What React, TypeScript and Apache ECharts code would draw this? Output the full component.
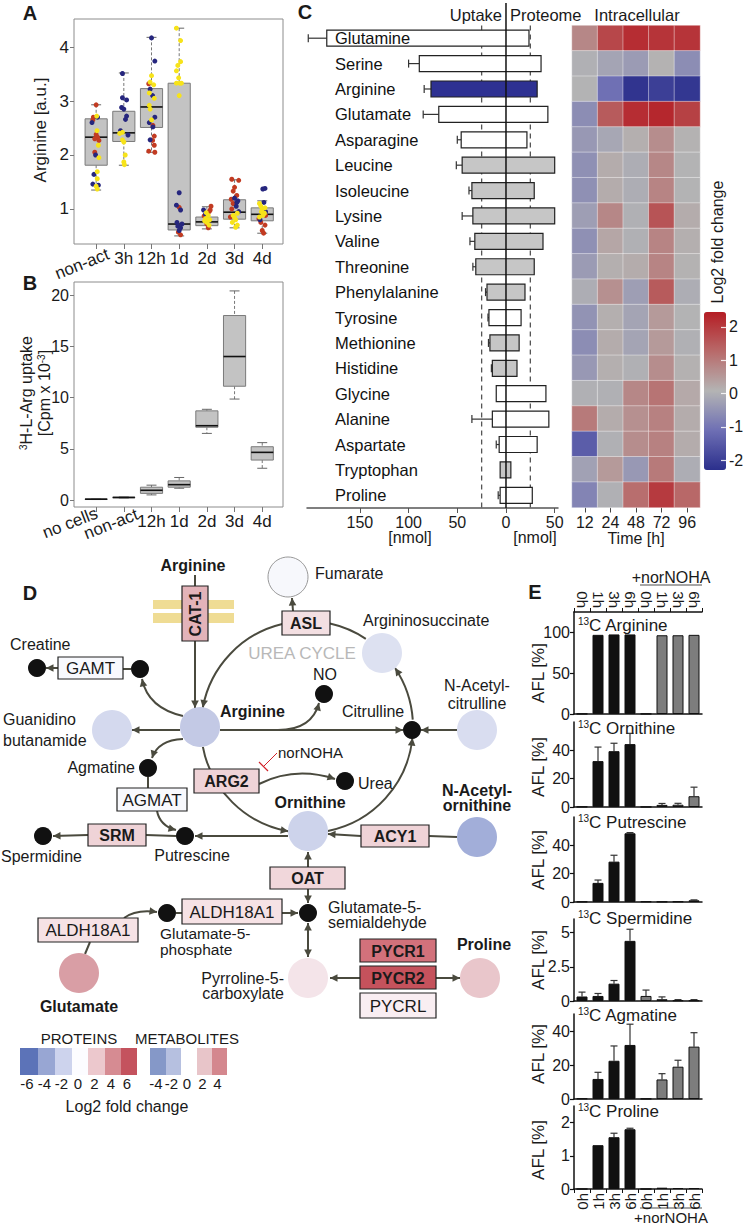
import React, { useEffect, useRef } from 'react';
import * as echarts from 'echarts';

const FONT = '"Liberation Sans", Arial, Helvetica, sans-serif';
const INK = '#1a1a1a';

// ---------------- Panel A ----------------
const catsA = ['non-act', '3h', '12h', '1d', '2d', '3d', '4d'];
// [q1, median, q3, lowerWhisker, upperWhisker]
const boxStatsA = [
  [1.81, 2.33, 2.67, 1.35, 2.93],
  [2.25, 2.41, 2.81, 1.81, 3.52],
  [2.51, 2.89, 3.23, 2.05, 4.18],
  [0.61, 0.72, 3.33, 0.5, 4.35],
  [0.69, 0.76, 0.85, 0.63, 1.04],
  [0.81, 0.94, 1.17, 0.65, 1.54],
  [0.78, 0.9, 1.02, 0.55, 1.15],
];
const ticksA = [1, 2, 3, 4];
// points: [categoryIndex, jitter, value]
const navyA = [
  [0, -0.15, 2.6], [0, 0.05, 2.7], [0, -0.02, 2.0], [0, -0.08, 1.64], [0, -0.12, 1.46], [0, 0.08, 1.44],
  [1, -0.05, 3.51], [1, -0.05, 3.06], [1, 0.1, 3.02], [1, -0.08, 2.88], [1, 0, 2.85], [1, 0.1, 2.72], [1, 0.06, 2.66], [1, -0.12, 2.45], [1, 0.15, 2.37],
  [2, 0, 4.17], [2, 0.12, 3.74], [2, -0.05, 3.22], [2, 0.04, 3.1], [2, 0.12, 2.7], [2, -0.08, 2.6], [2, 0.05, 2.52], [2, -0.05, 2.28],
  [3, 0, 1.3], [3, -0.1, 1.07], [3, 0.05, 0.98], [3, -0.08, 0.75], [3, 0.1, 0.72], [3, -0.05, 0.68], [3, 0.05, 0.65], [3, 0, 0.6],
  [4, -0.12, 0.98], [4, -0.05, 0.9],
  [5, 0, 1.2], [5, 0.12, 1.15], [5, 0.06, 1.05], [5, 0.15, 0.95], [5, 0.08, 1.12],
  [6, 0.02, 1.37], [6, 0.1, 1.38], [6, 0.06, 1.12], [6, -0.08, 0.8], [6, 0.12, 0.95],
];
const redA = [
  [0, 0, 2.93], [0, -0.1, 2.7], [0, -0.12, 2.65], [0, 0, 2.38], [0, 0.05, 2.33], [0, -0.05, 2.3], [0, 0.1, 2.27], [0, -0.05, 2.05],
  [2, -0.1, 3.32], [2, 0.05, 2.55], [2, 0.1, 2.35], [2, 0.04, 2.27], [2, 0.1, 2.18], [2, -0.1, 2.07], [2, 0.12, 2.05],
  [3, 0, 1.03], [3, -0.03, 0.57], [3, 0.05, 0.52],
  [4, 0.15, 1.05], [4, 0.08, 0.95], [4, -0.1, 0.87], [4, 0, 0.72], [4, 0.05, 0.65], [4, 0.12, 0.98],
  [5, -0.1, 1.55], [5, 0.15, 1.53], [5, 0, 1.4], [5, -0.05, 1.33], [5, 0.08, 1.25], [5, -0.05, 1.1], [5, -0.1, 1.0], [5, -0.15, 0.85], [5, -0.12, 1.18],
  [6, 0.12, 0.88], [6, -0.05, 0.75], [6, 0.1, 0.7], [6, 0, 0.6], [6, 0.05, 0.55], [6, -0.12, 0.82],
];
const yellowA = [
  [0, 0.02, 2.72], [0, 0.03, 2.45], [0, 0.08, 2.18], [0, 0.1, 1.95], [0, 0.04, 1.69], [0, 0.04, 1.56], [0, 0, 1.42], [0, 0.04, 1.37],
  [1, -0.05, 2.42], [1, -0.15, 2.4], [1, -0.05, 2.28], [1, 0, 2.24], [1, 0.05, 2.0], [1, 0, 1.87], [1, 0.02, 1.82],
  [2, 0, 3.47], [2, -0.05, 3.35], [2, 0.08, 3.3], [2, -0.08, 3.15], [2, 0.1, 3.05], [2, -0.08, 2.92], [2, -0.05, 2.85], [2, 0, 2.65],
  [3, -0.1, 4.35], [3, 0.05, 4.12], [3, 0.05, 3.73], [3, -0.05, 3.66], [3, -0.1, 3.56], [3, -0.02, 3.43], [3, -0.1, 3.33], [3, 0.02, 3.33], [3, 0.08, 3.33], [3, 0, 3.1],
  [4, -0.02, 0.93], [4, 0.05, 0.88], [4, -0.05, 0.82], [4, 0.1, 0.8], [4, -0.08, 0.78], [4, 0.08, 0.7], [4, 0, 0.75],
  [5, 0.1, 0.92], [5, -0.05, 0.88], [5, 0.04, 0.8], [5, -0.08, 0.75], [5, 0.1, 0.7], [5, 0.04, 0.66], [5, 0, 0.84],
  [6, -0.1, 1.1], [6, -0.05, 1.05], [6, 0, 1.0], [6, -0.03, 0.95], [6, 0.08, 0.92], [6, -0.1, 0.85], [6, 0.1, 1.02], [6, 0.02, 0.88],
];

// ---------------- Panel B ----------------
const catsB = ['no cells', 'non-act', '12h', '1d', '2d', '3d', '4d'];
const boxStatsB = [
  [0.05, 0.08, 0.11, 0.05, 0.11],
  [0.22, 0.25, 0.28, 0.2, 0.3],
  [0.65, 0.95, 1.25, 0.5, 1.45],
  [1.25, 1.5, 1.87, 1.15, 2.2],
  [7.1, 7.25, 8.7, 6.5, 8.85],
  [11.1, 14.0, 18.0, 9.85, 20.4],
  [3.9, 4.65, 5.2, 3.1, 5.6],
];
const ticksB = [0, 5, 10, 15, 20];

// ---------------- Panel C ----------------
const aminoAcids = ['Glutamine', 'Serine', 'Arginine', 'Glutamate', 'Asparagine', 'Leucine', 'Isoleucine', 'Lysine', 'Valine', 'Threonine', 'Phenylalanine', 'Tyrosine', 'Methionine', 'Histidine', 'Glycine', 'Alanine', 'Aspartate', 'Tryptophan', 'Proline'];
const uptake = [184, 89, 77, 69, 46, 45, 35, 34, 32, 31, 19.5, 17.5, 16.5, 14, 10, 14, 7, 6, 6];
const uptakeErr = [203, 100, 84, 85, 50, 51, 38, 45, 37, 34, 21, 18.5, 18, 15, 10.5, 35, 10, 6, 8];
const proteome = [23.6, 36, 32, 43, 21.5, 50, 29, 50, 38, 29, 19.5, 15.5, 13.5, 11.3, 41, 44, 32, 5, 27];
// 0 = white, 1 = grey, 2 = blue
const barKind = [0, 0, 2, 0, 0, 1, 1, 1, 1, 1, 1, 0, 1, 1, 0, 0, 0, 1, 0];
const nmolTicks = [-150, -100, -50, 0, 50];
const refLines = [-25, 25];
const hours = ['12', '24', '48', '72', '96'];
const heat = [
  [0.8, 1.8, 2.2, 2.1, 2.1],
  [0, -0.2, -0.35, 0.1, -0.6],
  [0.05, -1.1, -2.2, -2.0, -2.15],
  [-0.6, 1.5, 2.2, 2.3, 1.9],
  [-0.4, -0.15, 0.15, 0.7, 0.1],
  [-0.55, 0.2, -0.05, 0.8, 0.05],
  [-0.55, 0.2, -0.05, 0.85, 0.05],
  [-0.3, 0.8, 0, 1.6, 0.2],
  [-0.55, 0.3, 0, 0.85, 0.15],
  [-0.35, 0.15, 0.2, 0.85, 0.1],
  [-0.05, 0.65, -0.3, 1.5, -0.05],
  [-0.5, 0.15, -0.2, 0.5, 0.05],
  [-0.6, 0.2, -0.2, 0.5, 0],
  [-0.4, 0.15, 0, 0.7, 0.12],
  [0, 0, 0.8, 1.1, 0.25],
  [1.0, 0.2, 0.65, 0.9, 0.2],
  [-1.45, 0, 0.7, 0.9, 0.2],
  [-0.25, 0.5, -0.4, 1.0, -0.05],
  [-0.75, 0, 1.2, 2.0, 1.3],
];
const heatColors = ['#2b2f8c', '#6e6fb4', '#b4b4b4', '#b86a6a', '#b51d24'];
const colorTicks = [-2, -1, 0, 1, 2];

// ---------------- Panel E ----------------
const eLabels = ['0h', '1h', '3h', '6h', '0h', '1h', '3h', '6h'];
const argVals = [0.3, 97, 97.5, 97.5, 0.3, 96.5, 96.5, 97];
const argErr = [null, null, null, null, null, null, null, null];
const ornVals = [0.2, 32.4, 39.4, 44.4, 0.1, 1.5, 1.6, 7.6];
const ornErr = [null, 42.3, 45, 52, null, 2.5, 2.6, 14];
const putVals = [0.3, 13.5, 28.5, 48.5, 0.4, 0.3, 0.4, 1.2];
const putErr = [null, 15.5, 33, 49, null, null, null, 1.5];
const spdVals = [0.33, 0.37, 1.27, 4.4, 0.37, 0.13, 0.05, 0.05];
const spdErr = [0.65, 0.55, 1.5, 5.25, 0.8, 0.3, 0.1, 0.1];
const agmVals = [0.3, 11.8, 22.5, 31.8, 0.2, 11.5, 19, 30.8];
const agmErr = [null, 15.7, 31.2, 44, null, 14.9, 22.8, 39];
const proVals = [0, 1.32, 1.56, 1.8, 0, 0.04, 0.03, 0.03];
const proErr = [null, null, 1.68, 1.83, null, null, null, null];

const eSpecs = [
  { name: 'Arginine', top: 612, height: 102, max: 125, ticks: [0, 50, 100], vals: argVals, errs: argErr, ty: 625, ly: 673 },
  { name: 'Ornithine', top: 722, height: 85, max: 60, ticks: [0, 20, 40], vals: ornVals, errs: ornErr, ty: 728, ly: 767 },
  { name: 'Putrescine', top: 817, height: 85, max: 60, ticks: [0, 20, 40], vals: putVals, errs: putErr, ty: 822, ly: 860 },
  { name: 'Spermidine', top: 919, height: 82, max: 6, ticks: [0, 2.5, 5], vals: spdVals, errs: spdErr, ty: 918, ly: 960 },
  { name: 'Agmatine', top: 1014, height: 85, max: 50, ticks: [0, 20, 40], vals: agmVals, errs: agmErr, ty: 1015, ly: 1054 },
  { name: 'Proline', top: 1106, height: 83, max: 2.5, ticks: [0, 1, 2], vals: proVals, errs: proErr, ty: 1111, ly: 1150 },
];

// ---------------- Panel D legend ----------------
const proteinLegend = ['-6', '-4', '-2', '0', '2', '4', '6'];
const proteinLegendColors = ['#5c73b8', '#98a6d3', '#cdd3ed', '#fcfcff', '#ecc8cd', '#d68b92', '#c4535e'];
const metabLegend = ['-4', '-2', '0', '2', '4'];
const metabLegendColors = ['#8598c8', '#b6c0e0', '#ffffff', '#e8c5c9', '#d4878e'];

// ===================================================================
function boxRender(params: any, api: any) {
  const i = api.value(0);
  const q1 = api.coord([i, api.value(1)]);
  const med = api.coord([i, api.value(2)]);
  const q3 = api.coord([i, api.value(3)]);
  const lo = api.coord([i, api.value(4)]);
  const hi = api.coord([i, api.value(5)]);
  const half = api.size([0.4, 0])[0];
  const cap = api.size([0.18, 0])[0];
  const x = q1[0];
  const dash = { stroke: '#777', lineWidth: 1, lineDash: [3, 2] };
  const solid = { stroke: '#666', lineWidth: 1 };
  return {
    type: 'group',
    children: [
      { type: 'line', shape: { x1: x, y1: hi[1], x2: x, y2: q3[1] }, style: dash },
      { type: 'line', shape: { x1: x, y1: q1[1], x2: x, y2: lo[1] }, style: dash },
      { type: 'line', shape: { x1: x - cap, y1: hi[1], x2: x + cap, y2: hi[1] }, style: solid },
      { type: 'line', shape: { x1: x - cap, y1: lo[1], x2: x + cap, y2: lo[1] }, style: solid },
      { type: 'rect', shape: { x: x - half, y: q3[1], width: 2 * half, height: Math.max(q1[1] - q3[1], 0.5) }, style: { fill: '#c3c3c3', stroke: '#7a7a7a', lineWidth: 1 } },
      { type: 'line', shape: { x1: x - half, y1: med[1], x2: x + half, y2: med[1] }, style: { stroke: '#111', lineWidth: 1.6 } },
    ],
  };
}

function buildDiagram(): any[] {
  const els: any[] = [];
  const LC = '#4a4a3e';
  const txt = (x: number, y: number, text: string, o: any = {}) => {
    const style: any = {
      text, fill: o.fill || INK, fontSize: o.size || 16, fontFamily: FONT,
      fontWeight: o.bold ? 'bold' : 'normal', align: o.align || 'center', verticalAlign: 'middle',
    };
    if (o.lh) style.lineHeight = o.lh;
    if (o.rich) style.rich = o.rich;
    els.push({ type: 'text', x, y, rotation: o.rot || 0, z: o.z || 30, style });
  };
  const head = (x: number, y: number, dx: number, dy: number, color = LC) => {
    const l = Math.hypot(dx, dy) || 1;
    const ux = dx / l, uy = dy / l;
    const L = 7.5, W = 3.8;
    els.push({
      type: 'polygon', z: 12,
      shape: { points: [[x, y], [x - ux * L - uy * W, y - uy * L + ux * W], [x - ux * L + uy * W, y - uy * L - ux * W]] },
      style: { fill: color },
    });
  };
  const seg = (x1: number, y1: number, x2: number, y2: number, endArrow = false, startArrow = false) => {
    els.push({ type: 'line', z: 10, shape: { x1, y1, x2, y2 }, style: { stroke: LC, lineWidth: 2 } });
    if (endArrow) head(x2, y2, x2 - x1, y2 - y1);
    if (startArrow) head(x1, y1, x1 - x2, y1 - y2);
  };
  const curve = (x1: number, y1: number, cx: number, cy: number, x2: number, y2: number) => {
    els.push({ type: 'bezierCurve', z: 10, shape: { x1, y1, x2, y2, cpx1: cx, cpy1: cy }, style: { stroke: LC, lineWidth: 2, fill: null } });
    head(x2, y2, x2 - cx, y2 - cy);
  };
  const CX = 307, CY = 727, R = 106;
  const arcSeg = (a1: number, a2: number, arrow: boolean) => {
    els.push({
      type: 'arc', z: 10,
      shape: { cx: CX, cy: CY, r: R, startAngle: (a1 * Math.PI) / 180, endAngle: (a2 * Math.PI) / 180, clockwise: true },
      style: { stroke: LC, lineWidth: 2, fill: null },
    });
    if (arrow) {
      const a = (a1 * Math.PI) / 180;
      head(CX + R * Math.cos(a), CY + R * Math.sin(a), Math.sin(a), -Math.cos(a));
    }
  };
  const circle = (cx: number, cy: number, fill: string, stroke?: string) =>
    els.push({ type: 'circle', z: 15, shape: { cx, cy, r: 20 }, style: { fill, stroke: stroke || null, lineWidth: 1 } });
  const dot = (cx: number, cy: number) =>
    els.push({ type: 'circle', z: 15, shape: { cx, cy, r: 9 }, style: { fill: '#111' } });
  const box = (x: number, y: number, w: number, h: number, fill: string, label: string, bold: boolean, size = 17, rot = 0) => {
    els.push({ type: 'rect', z: 18, shape: { x, y, width: w, height: h }, style: { fill, stroke: '#222', lineWidth: 1.2 } });
    txt(x + w / 2, y + h / 2 + 0.5, label, { bold, size, rot });
  };

  // membrane
  els.push({ type: 'rect', z: 8, shape: { x: 153, y: 600, width: 81, height: 9 }, style: { fill: '#efdc94' } });
  els.push({ type: 'rect', z: 8, shape: { x: 153, y: 613, width: 81, height: 10 }, style: { fill: '#efdc94' } });

  // urea cycle arcs
  arcSeg(190.6, 256.5, true);
  arcSeg(282.5, 303.7, false);
  arcSeg(326.2, 356, true);
  arcSeg(6, 78.6, true);
  arcSeg(100.2, 169.2, true);

  // connections
  seg(195, 575, 195, 586);
  seg(195, 641, 195, 708, true);
  seg(293, 611, 292, 598, true);
  seg(131, 669, 123, 669);
  seg(58, 668, 46, 668, true);
  curve(183, 716, 148, 708, 142, 679);
  seg(180, 730, 132, 730, true);
  seg(220, 730, 403, 730, true);
  curve(278, 730, 312, 730, 319, 703);
  seg(457, 730, 421, 730, true);
  curve(183, 739, 158, 740, 152, 758);
  seg(148, 777, 148, 788);
  curve(157, 811, 160, 826, 176, 830);
  seg(288, 836, 195, 836, true);
  seg(176, 836, 146, 835);
  seg(88, 835, 53, 836, true);
  curve(259, 784, 295, 766, 335, 779);
  seg(457, 837, 429, 836);
  seg(361, 836, 328, 834, true);
  seg(308, 867, 308, 852, true);
  seg(308, 889, 308, 903, true);
  seg(308, 923, 308, 957, true, true);
  curve(124, 918, 136, 909, 157, 912);
  seg(176, 913, 182, 913);
  seg(282, 913, 298, 913, true);
  seg(90, 942, 85, 954);
  seg(360, 978, 330, 978, true);
  seg(436, 978, 460, 978, true);

  // norNOHA inhibition
  els.push({ type: 'line', z: 11, shape: { x1: 277, y1: 753, x2: 264, y2: 766 }, style: { stroke: '#d2232a', lineWidth: 1 } });
  els.push({ type: 'line', z: 11, shape: { x1: 259, y1: 762, x2: 268, y2: 771 }, style: { stroke: '#d2232a', lineWidth: 1.2 } });
  txt(278, 752, 'norNOHA', { align: 'left', size: 15 });

  // metabolites (circles)
  circle(288, 577, '#f7f8fc', '#999');
  circle(382, 653, '#dde1f1');
  circle(200, 727, '#c3c9e5');
  circle(112, 730, '#d4d9ee');
  circle(477, 730, '#d9ddf0');
  circle(308, 831, '#cdd3eb');
  circle(477, 837, '#a2aed9');
  circle(79, 973, '#d99ea5');
  circle(308, 978, '#f4e4e9');
  circle(480, 978, '#e9c6cb');

  // black dots
  dot(37, 668); dot(140, 669); dot(324, 694); dot(412, 730); dot(148, 768);
  dot(345, 781); dot(185, 836); dot(43, 836); dot(308, 913); dot(167, 913);

  // enzymes
  box(182, 586, 26, 55, '#e3b3b9', 'CAT-1', true, 16, Math.PI / 2);
  box(282, 611, 48, 24, '#f3dfe2', 'ASL', true, 16);
  box(58, 657, 65, 22, '#f8f9fd', 'GAMT', false);
  box(194, 769, 65, 24, '#efd3d7', 'ARG2', true, 16);
  box(117, 788, 70, 23, '#f8f9fd', 'AGMAT', false);
  box(88, 824, 58, 22, '#efd3d7', 'SRM', true, 16);
  box(361, 825, 68, 22, '#efd3d7', 'ACY1', true, 16);
  box(270, 867, 75, 22, '#f1d7db', 'OAT', true, 16);
  box(182, 899, 100, 25, '#f6e2e5', 'ALDH18A1', false);
  box(38, 918, 100, 24, '#f6e2e5', 'ALDH18A1', false);
  box(360, 939, 76, 23, '#d2717b', 'PYCR1', true, 16);
  box(360, 966, 76, 23, '#c5525c', 'PYCR2', true, 16);
  box(360, 993, 76, 25, '#f9eef2', 'PYCRL', false);

  // labels
  txt(30, 593, 'D', { bold: true, size: 20 });
  txt(193, 565, 'Arginine', { bold: true });
  txt(315, 573, 'Fumarate', { align: 'left' });
  txt(363, 620, 'Argininosuccinate', { align: 'left' });
  txt(302, 653, 'UREA CYCLE', { size: 17, fill: '#b8b8b8' });
  txt(10, 644, 'Creatine', { align: 'left' });
  txt(325, 674, 'NO');
  txt(477, 694, 'N-Acetyl-\ncitrulline', { lh: 18 });
  txt(3, 729.5, 'Guanidino\nbutanamide', { align: 'left', lh: 21 });
  txt(220, 711, 'Arginine', { bold: true, align: 'left' });
  txt(342, 711, 'Citrulline', { align: 'left' });
  txt(135, 767, 'Agmatine', { align: 'right' });
  txt(358, 783, 'Urea', { align: 'left' });
  txt(310, 802, 'Ornithine', { bold: true });
  txt(477, 797.5, 'N-Acetyl-\nornithine', { bold: true, lh: 15 });
  txt(192, 855, 'Putrescine');
  txt(1, 856, 'Spermidine', { align: 'left' });
  txt(328, 914.5, 'Glutamate-5-\nsemialdehyde', { align: 'left', lh: 15 });
  txt(160, 941.5, 'Glutamate-5-\nphosphate', { align: 'left', lh: 15.5, size: 15.5 });
  txt(284, 985.5, 'Pyrroline-5-\ncarboxylate', { align: 'right', lh: 15 });
  txt(484, 944, 'Proline', { bold: true });
  txt(79, 1006, 'Glutamate', { bold: true });

  // legend
  txt(79, 1038, 'PROTEINS', { size: 15 });
  txt(187, 1038, 'METABOLITES', { size: 15 });
  const pX = [20, 38, 55, 72, 88, 105, 121, 137];
  proteinLegend.forEach((lab, i) => {
    els.push({ type: 'rect', z: 5, shape: { x: pX[i], y: 1048, width: pX[i + 1] - pX[i], height: 27 }, style: { fill: proteinLegendColors[i] } });
    txt((pX[i] + pX[i + 1]) / 2 - 2, 1083, lab, { size: 15 });
  });
  const mX = [150, 166, 181, 197, 212, 227];
  metabLegend.forEach((lab, i) => {
    els.push({ type: 'rect', z: 5, shape: { x: mX[i], y: 1048, width: mX[i + 1] - mX[i], height: 27 }, style: { fill: metabLegendColors[i] } });
    txt((mX[i] + mX[i + 1]) / 2 - 2, 1083, lab, { size: 15 });
  });
  txt(127, 1106, 'Log2 fold change', { size: 16 });
  return els;
}

function buildOption() {
  const sup = { fontSize: 10, fontFamily: FONT, verticalAlign: 'top', fill: INK };
  const T = (x: number, y: number, text: string, o: any = {}) => {
    const style: any = {
      text, fill: o.fill || INK, fontSize: o.size || 16, fontFamily: FONT,
      fontWeight: o.bold ? 'bold' : 'normal', align: o.align || 'center', verticalAlign: 'middle',
    };
    if (o.rich) style.rich = o.rich;
    return { type: 'text', x, y, rotation: o.rot || 0, z: 30, style };
  };

  const grids: any[] = [
    { left: 74, top: 19, width: 209, height: 225, show: true, borderColor: '#8c8c8c', borderWidth: 1 },
    { left: 74, top: 282, width: 209, height: 225, show: true, borderColor: '#8c8c8c', borderWidth: 1 },
    { left: 307, top: 25.5, width: 251, height: 482.5 },
    { left: 572, top: 25.5, width: 128, height: 482 },
    { left: 704, top: 312, width: 22, height: 158 },
  ];
  eSpecs.forEach((s) => grids.push({ left: 574, top: s.top, width: 128, height: s.height }));

  const lab = (extra: any = {}) => ({ fontSize: 16, color: INK, fontFamily: FONT, ...extra });
  const noLine = { show: false, onZero: false };

  // categories sit at positions 1..7 so the value axis never crosses zero
  const boxXAxis = (gi: number, cats: string[], shown: number[]) => ({
    gridIndex: gi, type: 'value', min: 0.2, max: 7.75,
    splitLine: { show: false }, axisLine: noLine,
    axisTick: { show: true, customValues: [1, 2, 3, 4, 5, 6, 7], length: 5, lineStyle: { color: '#777' } },
    axisLabel: lab({ customValues: shown, formatter: (v: number) => cats[Math.round(v) - 1], margin: 6, fontSize: 17 }),
  });

  const xAxis: any[] = [
    boxXAxis(0, catsA, [2, 3, 4, 5, 6, 7]),
    boxXAxis(1, catsB, [3, 4, 5, 6, 7]),
    {
      gridIndex: 2, type: 'value', min: -204.3, max: 53.4, splitLine: { show: false },
      axisLine: { show: true, onZero: false, lineStyle: { color: '#555', width: 1.5 } },
      axisTick: { show: true, customValues: nmolTicks, length: 5, lineStyle: { color: '#555' } },
      axisLabel: lab({ customValues: nmolTicks, formatter: (v: number) => String(Math.abs(v)), margin: 6 }),
    },
    {
      gridIndex: 3, type: 'category', data: hours, axisLine: noLine,
      axisTick: { show: true, alignWithLabel: true, length: 5, lineStyle: { color: '#444' } },
      axisLabel: lab({ margin: 7, interval: 0 }),
    },
    { gridIndex: 4, type: 'value', show: false, min: 1, max: 2, axisLine: noLine },
  ];
  const yAxis: any[] = [
    {
      gridIndex: 0, type: 'value', min: 0.35, max: 4.52, splitLine: { show: false }, axisLine: noLine,
      axisTick: { show: true, customValues: ticksA, length: 4, lineStyle: { color: '#777' } },
      axisLabel: lab({ customValues: ticksA, margin: 5, fontSize: 17 }),
    },
    {
      gridIndex: 1, type: 'value', min: -0.68, max: 21.27, splitLine: { show: false }, axisLine: noLine,
      axisTick: { show: true, customValues: ticksB, length: 4, lineStyle: { color: '#777' } },
      axisLabel: lab({ customValues: ticksB, margin: 5 }),
    },
    {
      gridIndex: 2, type: 'category', data: aminoAcids, inverse: true, z: 10,
      axisLine: noLine, axisTick: { show: false },
      axisLabel: lab({ inside: true, margin: 28, fontSize: 16.5, interval: 0, color: '#111' }),
    },
    { gridIndex: 3, type: 'category', data: aminoAcids, inverse: true, show: false, axisLine: noLine },
    {
      gridIndex: 4, type: 'value', min: -2.3, max: 2.45, position: 'right', z: 10, splitLine: { show: false },
      axisLine: noLine,
      axisTick: { show: true, inside: true, customValues: colorTicks, length: 5, lineStyle: { color: 'rgba(255,255,255,0.85)', width: 1.2 } },
      axisLabel: lab({ customValues: colorTicks, margin: 3 }),
    },
  ];

  eSpecs.forEach((s, i) => {
    const gi = 5 + i;
    const last = i === eSpecs.length - 1;
    xAxis.push({
      gridIndex: gi, type: 'category', data: eLabels.map((_, k) => 'c' + k),
      axisLine: { show: true, onZero: false, lineStyle: { color: '#111', width: 1.5 } },
      axisTick: { show: last, length: 4, lineStyle: { color: '#111' } },
      axisLabel: lab({ show: last, rotate: 90, interval: 0, margin: 4, fontSize: 15, formatter: (_v: string, k: number) => eLabels[k] }),
    });
    yAxis.push({
      gridIndex: gi, type: 'value', min: 0, max: s.max, splitLine: { show: false },
      axisLine: { show: true, onZero: false, lineStyle: { color: '#111', width: 1.5 } },
      axisTick: { show: true, customValues: s.ticks, length: 4, lineStyle: { color: '#111', width: 1.2 } },
      axisLabel: lab({ customValues: s.ticks, margin: 4 }),
    });
  });
  // top category axis for the first E plot
  xAxis.push({
    gridIndex: 5, type: 'category', position: 'top', data: eLabels.map((_, k) => 'c' + k),
    axisLine: { show: true, onZero: false, lineStyle: { color: '#111', width: 1.5 } },
    axisTick: { show: true, length: 4, lineStyle: { color: '#111' } },
    axisLabel: lab({ rotate: 90, interval: 0, margin: 4, fontSize: 15, formatter: (_v: string, k: number) => eLabels[k] }),
  });

  const series: any[] = [];
  // Panel A
  series.push({
    type: 'custom', xAxisIndex: 0, yAxisIndex: 0, z: 2, renderItem: boxRender,
    encode: { x: 0, y: [1, 2, 3, 4, 5] }, data: boxStatsA.map((b, i) => [i + 1, ...b]),
  });
  const scat = (pts: number[][], color: string) => ({
    type: 'scatter', xAxisIndex: 0, yAxisIndex: 0, z: 3, symbolSize: 5, itemStyle: { color, opacity: 1 },
    data: pts.map((p) => [p[0] + 1 + p[1], p[2]]),
  });
  series.push(scat(redA, '#c23b22'), scat(navyA, '#26267e'), scat(yellowA, '#f7e31a'));
  // Panel B
  series.push({
    type: 'custom', xAxisIndex: 1, yAxisIndex: 1, z: 2, renderItem: boxRender,
    encode: { x: 0, y: [1, 2, 3, 4, 5] }, data: boxStatsB.map((b, i) => [i + 1, ...b]),
  });
  // Panel C reference dashed lines
  series.push({
    type: 'custom', xAxisIndex: 2, yAxisIndex: 2, z: 1, encode: { x: 0, y: 1 },
    data: refLines.map((v) => [v, 0]),
    renderItem: (p: any, api: any) => {
      const v = api.value(0);
      const band = api.size([0, 1])[1];
      const a = api.coord([v, 0]);
      const b = api.coord([v, aminoAcids.length - 1]);
      return { type: 'line', shape: { x1: a[0], y1: a[1] - band / 2, x2: a[0], y2: b[1] + band / 2 }, style: { stroke: '#555', lineWidth: 1.3, lineDash: [5, 4] } };
    },
  });
  // Panel C bars
  series.push({
    type: 'custom', xAxisIndex: 2, yAxisIndex: 2, z: 3, encode: { y: 0, x: [1, 2, 3] },
    data: aminoAcids.map((_, i) => [i, -uptake[i], proteome[i], -uptakeErr[i]]),
    renderItem: (p: any, api: any) => {
      const idx = api.value(0);
      const L = api.coord([api.value(1), idx]);
      const Rr = api.coord([api.value(2), idx]);
      const E = api.coord([api.value(3), idx]);
      const band = api.size([0, 1])[1];
      const h = band * 0.63;
      const kind = barKind[p.dataIndex];
      const fill = kind === 2 ? '#2e3192' : kind === 1 ? '#c6c6c6' : '#ffffff';
      const ch: any[] = [];
      if (E[0] < L[0] - 0.5) {
        ch.push({ type: 'line', shape: { x1: E[0], y1: L[1], x2: L[0], y2: L[1] }, style: { stroke: '#333', lineWidth: 1.2 } });
        ch.push({ type: 'line', shape: { x1: E[0], y1: L[1] - 4, x2: E[0], y2: L[1] + 4 }, style: { stroke: '#333', lineWidth: 1.2 } });
      }
      ch.push({ type: 'rect', shape: { x: L[0], y: L[1] - h / 2, width: Rr[0] - L[0], height: h }, style: { fill, stroke: '#222', lineWidth: 1.2 } });
      return { type: 'group', children: ch };
    },
  });
  // Panel C zero line
  series.push({
    type: 'custom', xAxisIndex: 2, yAxisIndex: 2, z: 4, encode: { x: 0, y: 1 }, data: [[0, 0]],
    renderItem: (p: any, api: any) => {
      const band = api.size([0, 1])[1];
      const b = api.coord([0, aminoAcids.length - 1]);
      return { type: 'line', shape: { x1: b[0], y1: 3, x2: b[0], y2: b[1] + band / 2 }, style: { stroke: '#111', lineWidth: 1.5 } };
    },
  });
  // Heatmap
  const heatIndex = series.length;
  const heatData: number[][] = [];
  heat.forEach((row, r) => row.forEach((v, c) => heatData.push([c, r, v])));
  series.push({
    type: 'heatmap', xAxisIndex: 3, yAxisIndex: 3, data: heatData,
    itemStyle: { borderColor: 'rgba(255,255,255,0.4)', borderWidth: 1 },
  });
  // Panel E
  eSpecs.forEach((s, i) => {
    const ai = 5 + i;
    series.push({
      type: 'bar', xAxisIndex: ai, yAxisIndex: ai, barWidth: 11, z: 3,
      data: s.vals.map((v, k) => ({ value: v, itemStyle: { color: k < 4 ? '#111111' : '#7d7d7d', borderColor: '#111', borderWidth: 1 } })),
    });
    const ed = s.vals.map((v, k) => [k, v, s.errs[k]]).filter((d) => d[2] !== null);
    series.push({
      type: 'custom', xAxisIndex: ai, yAxisIndex: ai, z: 2, encode: { x: 0, y: [1, 2] }, data: ed,
      renderItem: (p: any, api: any) => {
        const k = api.value(0);
        const a = api.coord([k, api.value(1)]);
        const b = api.coord([k, api.value(2)]);
        return {
          type: 'group', children: [
            { type: 'line', shape: { x1: a[0], y1: a[1], x2: b[0], y2: b[1] }, style: { stroke: '#333', lineWidth: 1.2 } },
            { type: 'line', shape: { x1: b[0] - 3.5, y1: b[1], x2: b[0] + 3.5, y2: b[1] }, style: { stroke: '#333', lineWidth: 1.2 } },
          ],
        };
      },
    });
  });

  const graphic: any[] = [
    T(30, 13, 'A', { bold: true, size: 20 }),
    T(30, 283, 'B', { bold: true, size: 20 }),
    T(305, 12, 'C', { bold: true, size: 20 }),
    T(535, 592, 'E', { bold: true, size: 20 }),
    T(40, 130, 'Arginine [a.u.]', { size: 17, rot: Math.PI / 2 }),
    T(82, 264, catsA[0], { size: 17, rot: 0.38 }),
    T(26, 393, '{s|3}H-L-Arg uptake', { size: 16, rot: Math.PI / 2, rich: { s: sup } }),
    T(44, 393, '[Cpm x 10{s|-3}]', { size: 16, rot: Math.PI / 2, rich: { s: sup } }),
    T(70, 523, catsB[0], { size: 17, rot: 0.37 }),
    T(111, 524, catsB[1], { size: 17, rot: 0.37 }),
    T(502, 15, 'Uptake', { align: 'right', size: 16.5 }),
    T(510, 15, 'Proteome', { align: 'left', size: 16.5 }),
    T(637, 15, 'Intracellular', { size: 16.5 }),
    T(410, 537, '[nmol]', { size: 16 }),
    T(535, 537, '[nmol]', { size: 16 }),
    T(636, 538, 'Time [h]', { size: 16 }),
    T(717, 242, 'Log2 fold change', { size: 16, rot: Math.PI / 2 }),
    T(671, 577, '+norNOHA', { size: 16 }),
    { type: 'line', shape: { x1: 640, y1: 585, x2: 702, y2: 585 }, style: { stroke: '#888', lineWidth: 1.5 } },
    T(671, 1217, '+norNOHA', { size: 15 }),
    { type: 'line', shape: { x1: 640, y1: 1208, x2: 702, y2: 1208 }, style: { stroke: '#888', lineWidth: 1.5 } },
  ];
  eSpecs.forEach((s) => {
    graphic.push(T(578, s.ty, '{s|13}C ' + s.name, { align: 'left', size: 17, rich: { s: sup } }));
    graphic.push(T(538, s.ly, 'AFL [%]', { size: 17, rot: Math.PI / 2 }));
  });
  graphic.push(...buildDiagram());

  return {
    animation: false,
    backgroundColor: '#ffffff',
    textStyle: { fontFamily: FONT },
    grid: grids.map((g) => ({ containLabel: false, outerBoundsMode: 'none', ...g })),
    xAxis,
    yAxis,
    visualMap: [{
      type: 'continuous', seriesIndex: heatIndex, min: -2.3, max: 2.45, orient: 'vertical',
      left: 704, top: 312, itemWidth: 22, itemHeight: 158, padding: 0, calculable: false,
      show: true, text: null, inRange: { color: heatColors },
    }],
    series,
    graphic,
  };
}

export default function App() {
  const ref = useRef<HTMLDivElement>(null);
  useEffect(() => {
    const chart = echarts.init(ref.current as HTMLDivElement, null, { renderer: 'svg' });
    chart.setOption(buildOption() as any);
    return () => chart.dispose();
  }, []);
  return (
    <div
      ref={ref}
      style={{ position: 'absolute', left: 0, top: 0, width: 743, height: 1227, background: '#fff' }}
    />
  );
}
